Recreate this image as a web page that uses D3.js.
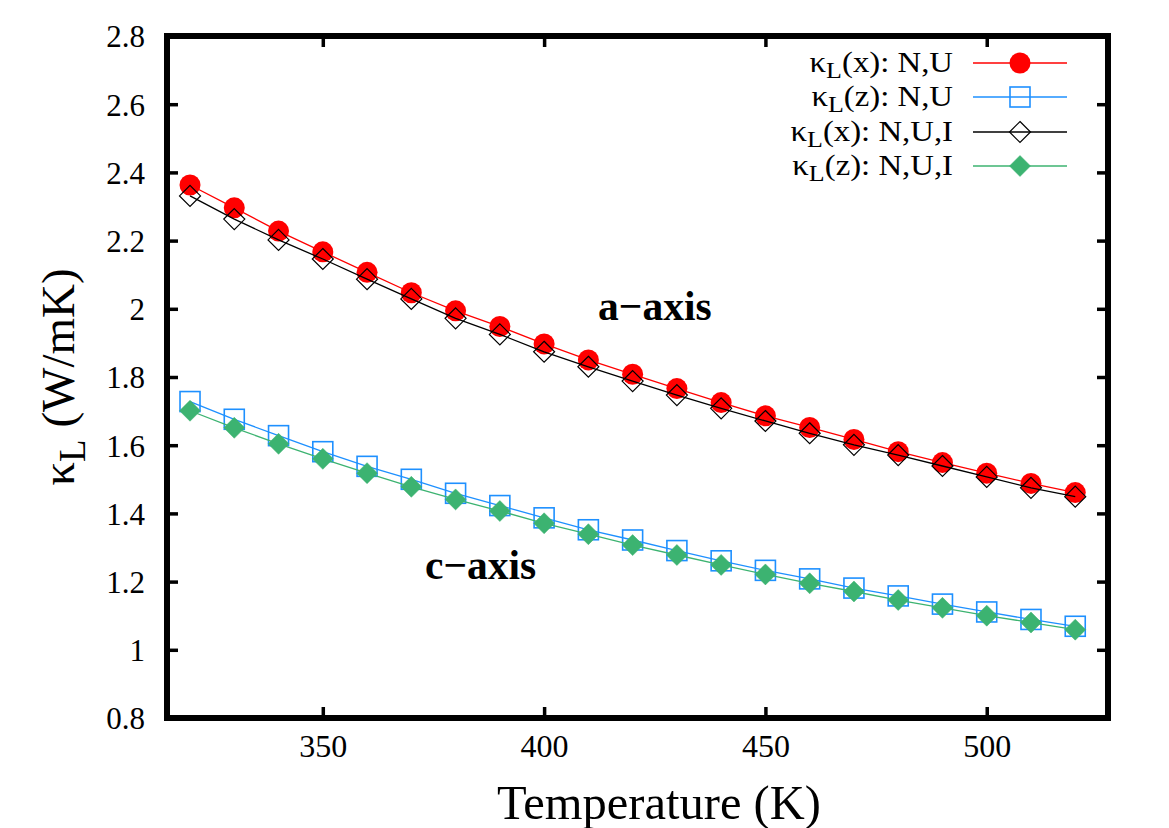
<!DOCTYPE html>
<html>
<head>
<meta charset="utf-8">
<script src="https://cdn.jsdelivr.net/npm/d3@7"></script>
<style>
  body { margin: 0; background: #ffffff; }
  svg text { font-family: "Liberation Serif", "Times New Roman", serif; }
</style>
</head>
<body>
<div id="chart"></div>
<script>

// temperatures (K)
const temps = [320, 330, 340, 350, 360, 370, 380, 390, 400, 410, 420, 430, 440, 450, 460, 470, 480, 490, 500, 510, 520];

// kappa_L values (W/mK)
const kxNU  = [2.363, 2.296, 2.228, 2.167, 2.107, 2.047, 1.994, 1.948, 1.897, 1.850, 1.808, 1.766, 1.725, 1.686, 1.652, 1.617, 1.581, 1.549, 1.518, 1.488, 1.461];
const kzNU  = [1.728, 1.676, 1.628, 1.581, 1.538, 1.500, 1.459, 1.423, 1.387, 1.352, 1.322, 1.291, 1.261, 1.233, 1.208, 1.181, 1.158, 1.134, 1.111, 1.089, 1.069];
const kxNUI = [2.331, 2.263, 2.202, 2.146, 2.087, 2.029, 1.972, 1.925, 1.874, 1.830, 1.788, 1.747, 1.708, 1.671, 1.635, 1.601, 1.571, 1.539, 1.507, 1.475, 1.449];
const kzNUI = [1.701, 1.651, 1.604, 1.560, 1.518, 1.478, 1.441, 1.407, 1.371, 1.339, 1.307, 1.278, 1.249, 1.221, 1.195, 1.171, 1.146, 1.123, 1.100, 1.080, 1.059];

const xTicks = [350, 400, 450, 500];
const yTicks = [0.8, 1.0, 1.2, 1.4, 1.6, 1.8, 2.0, 2.2, 2.4, 2.6, 2.8];

const seriesNames = ["(x): N,U", "(z): N,U", "(x): N,U,I", "(z): N,U,I"];


//--------------------------------------
// SETUP
//--------------------------------------

const W = 1169, H = 828;
const mLeft = 167, mRight = 1108, mTop = 36, mBottom = 718;
const serif = '"Liberation Serif", "Times New Roman", serif';

const svg = d3.select("#chart").append("svg")
  .attr("width", W)
  .attr("height", H);

const x = d3.scaleLinear().domain([314.8, 527.4]).range([mLeft, mRight]);
const y = d3.scaleLinear().domain([0.8, 2.8]).range([mBottom, mTop]);

const fmtY = d => (Math.round(d * 10) % 10 === 0) ? String(Math.round(d)) : d.toFixed(1);


//--------------------------------------
// AXES
//--------------------------------------

function styleAxis(g) {
  g.attr("font-family", null);
  g.select(".domain").remove();
  g.selectAll(".tick line").attr("stroke", "#000").attr("stroke-width", 3.5);
  g.selectAll(".tick text")
    .attr("fill", "#000")
    .attr("font-size", 31)
    .style("font-family", serif);
}

svg.append("g")
  .attr("transform", "translate(0," + mBottom + ")")
  .call(d3.axisBottom(x).tickValues(xTicks).tickSize(-11).tickPadding(0))
  .call(styleAxis)
  .call(g => g.selectAll(".tick text").attr("y", 39).attr("dy", 0).attr("font-size", 32));

svg.append("g")
  .attr("transform", "translate(0," + mTop + ")")
  .call(d3.axisTop(x).tickValues(xTicks).tickSize(-11).tickFormat(""))
  .call(styleAxis);

svg.append("g")
  .attr("transform", "translate(" + mLeft + ",0)")
  .call(d3.axisLeft(y).tickValues(yTicks).tickSize(-11).tickPadding(22).tickFormat(fmtY))
  .call(styleAxis)
  .call(g => g.selectAll(".tick text").attr("dy", "0.35em"));

svg.append("g")
  .attr("transform", "translate(" + mRight + ",0)")
  .call(d3.axisRight(y).tickValues(yTicks).tickSize(-11).tickFormat(""))
  .call(styleAxis);


//--------------------------------------
// SERIES
//--------------------------------------

const series = [
  { vals: kxNU,  color: "#ff0000", marker: "circle" },
  { vals: kzNU,  color: "#1e90ff", marker: "square" },
  { vals: kxNUI, color: "#000000", marker: "odiamond" },
  { vals: kzNUI, color: "#3cb371", marker: "diamond" }
];

const line = d3.line()
  .x(d => x(d[0]))
  .y(d => y(d[1]));

function drawMarker(g, type, color, cx, cy) {
  if (type === "circle") {
    g.append("circle").attr("cx", cx).attr("cy", cy).attr("r", 10.5).attr("fill", color);
  } else if (type === "square") {
    g.append("rect")
      .attr("x", cx - 10).attr("y", cy - 10)
      .attr("width", 20).attr("height", 20)
      .attr("fill", "none").attr("stroke", color).attr("stroke-width", 1.6);
  } else {
    let s = 10.5;
    g.append("path")
      .attr("d", "M" + cx + "," + (cy - s) + "L" + (cx + s) + "," + cy + "L" + cx + "," + (cy + s) + "L" + (cx - s) + "," + cy + "Z")
      .attr("fill", type === "diamond" ? color : "none")
      .attr("stroke", color)
      .attr("stroke-width", type === "diamond" ? 0.5 : 1.2);
  }
}

series.forEach(function (s) {
  let pts = temps.map((t, i) => [t, s.vals[i]]);
  let g = svg.append("g");

  g.append("path")
    .datum(pts)
    .attr("d", line)
    .attr("fill", "none")
    .attr("stroke", s.color)
    .attr("stroke-width", 1.3);

  pts.forEach(p => drawMarker(g, s.marker, s.color, x(p[0]), y(p[1])));
});


//--------------------------------------
// LEGEND
//--------------------------------------

const legend = svg.append("g");
const rowY = [63, 97, 132, 166];

series.forEach(function (s, i) {
  // glyphs in the original are a bit wider than tall
  let t = legend.append("text")
    .attr("transform", "translate(953," + (rowY[i] + 9) + ") scale(1.13,1)")
    .attr("text-anchor", "end")
    .attr("font-size", 29)
    .attr("fill", "#000");
  t.append("tspan").text("κ");
  t.append("tspan").attr("font-size", 23).attr("dy", 6).text("L");
  t.append("tspan").attr("dy", -6).text(seriesNames[i]);

  legend.append("line")
    .attr("x1", 973).attr("x2", 1067)
    .attr("y1", rowY[i]).attr("y2", rowY[i])
    .attr("stroke", s.color).attr("stroke-width", 1.3);

  drawMarker(legend, s.marker, s.color, 1020, rowY[i]);
});


//--------------------------------------
// LABELS
//--------------------------------------

svg.append("text")
  .attr("x", 598).attr("y", 320)
  .attr("font-size", 41.5).attr("font-weight", "bold")
  .text("a\u2212axis");

svg.append("text")
  .attr("x", 425).attr("y", 579)
  .attr("font-size", 41.5).attr("font-weight", "bold")
  .text("c\u2212axis");

svg.append("text")
  .attr("x", 659).attr("y", 819)
  .attr("text-anchor", "middle")
  .attr("font-size", 48.5)
  .text("Temperature (K)");

let yt = svg.append("text")
  .attr("transform", "translate(74,377) rotate(-90)")
  .attr("text-anchor", "middle")
  .attr("font-size", 47);
yt.append("tspan").text("κ");
yt.append("tspan").attr("font-size", 37).attr("dy", 11).text("L");
yt.append("tspan").attr("dy", -11).text(" (W/mK)");


// frame on top
svg.append("rect")
  .attr("x", mLeft).attr("y", mTop)
  .attr("width", mRight - mLeft).attr("height", mBottom - mTop)
  .attr("fill", "none")
  .attr("stroke", "#000")
  .attr("stroke-width", 6);

</script>
</body>
</html>
